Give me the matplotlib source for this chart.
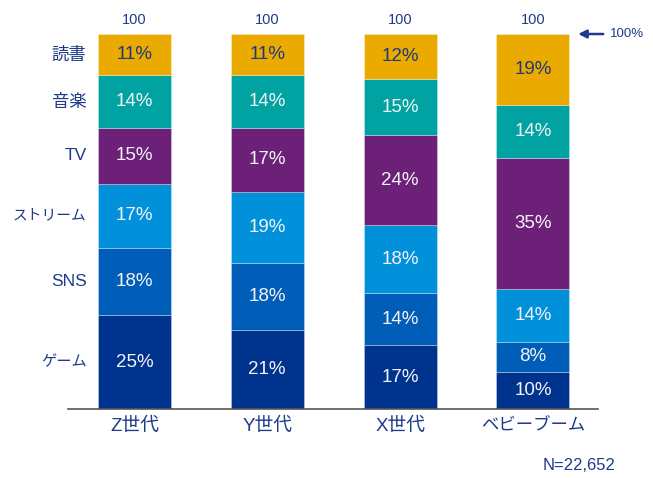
import matplotlib
matplotlib.use("Agg")
import matplotlib.pyplot as plt
import numpy as np

plt.rcParams['font.family'] = ['Liberation Sans', 'Noto Sans CJK JP']

generations = ["Z世代", "Y世代", "X世代", "ベビーブーム"]
media = ["ゲーム", "SNS", "ストリーム", "TV", "音楽", "読書"]

game = [25, 21, 17, 10]
sns_ = [18, 18, 14, 8]
stream = [17, 19, 18, 14]
tv = [15, 17, 24, 35]
music = [14, 14, 15, 14]
books = [11, 11, 12, 19]
totals = [100, 100, 100, 100]

series = [game, sns_, stream, tv, music, books]
colors = ["#00338D", "#005EB8", "#0091DA", "#6D2077", "#00A3A1", "#EAAA00"]
text_colors = ["#F4F4F8", "#F4F4F8", "#F4F4F8", "#F4F4F8", "#F4F4F8", "#1E3A7B"]
navy = "#1E3A8A"
# row label sizes: latin / kanji / katakana (kana in Noto CJK run wide)
label_sizes = {"ゲーム": 11.0, "SNS": 12.5, "ストリーム": 10.6, "TV": 12.5,
               "音楽": 12.5, "読書": 12.5}

fig = plt.figure(figsize=(6.53, 4.78), dpi=100)
ax = fig.add_axes([68/653, 69/478, 530/653, 375/478])

x = np.arange(len(generations))
bottom = np.zeros(len(generations))
for vals, col, tcol in zip(series, colors, text_colors):
    vals = np.array(vals, dtype=float)
    ax.bar(x, vals, width=0.55, bottom=bottom, color=col,
           edgecolor=(1, 1, 1, 0.35), linewidth=0.6)
    for xi, b, v in zip(x, bottom, vals):
        ax.text(xi, b + v / 2, f"{int(v)}%", ha="center", va="center",
                color=tcol, fontsize=13.5)
    bottom += vals

zb = 0
for name, vals in zip(media, series):
    ax.text(-0.36, zb + vals[0] / 2, name, ha="right", va="center",
            color=navy, fontsize=label_sizes[name])
    zb += vals[0]

for xi, t in zip(x, totals):
    ax.text(xi, t + 1.8, str(t), ha="center", va="bottom", color=navy,
            fontsize=10.5)

ax.annotate("", xy=(3.32, 100), xytext=(3.55, 100),
            arrowprops=dict(arrowstyle="-|>", color=navy, lw=1.8,
                            mutation_scale=12),
            annotation_clip=False)
ax.text(3.58, 100, "100%", ha="left", va="center", color=navy, fontsize=9.5)

ax.set_xlim(-0.5, 3.49)
ax.set_ylim(0, 100)
ax.set_xticks(x)
ax.set_xticklabels(generations, color=navy, fontsize=13.5)
ax.get_xticklabels()[-1].set_fontsize(12.5)
ax.tick_params(axis="x", length=0, pad=6)
ax.set_yticks([])
for s in ["top", "right", "left"]:
    ax.spines[s].set_visible(False)
ax.spines["bottom"].set_color("#555555")
ax.spines["bottom"].set_linewidth(1.2)

fig.text(616/653, 1 - 466/478, "N=22,652", ha="right", va="center",
         color=navy, fontsize=12)

fig.savefig("out.png", dpi=100)
